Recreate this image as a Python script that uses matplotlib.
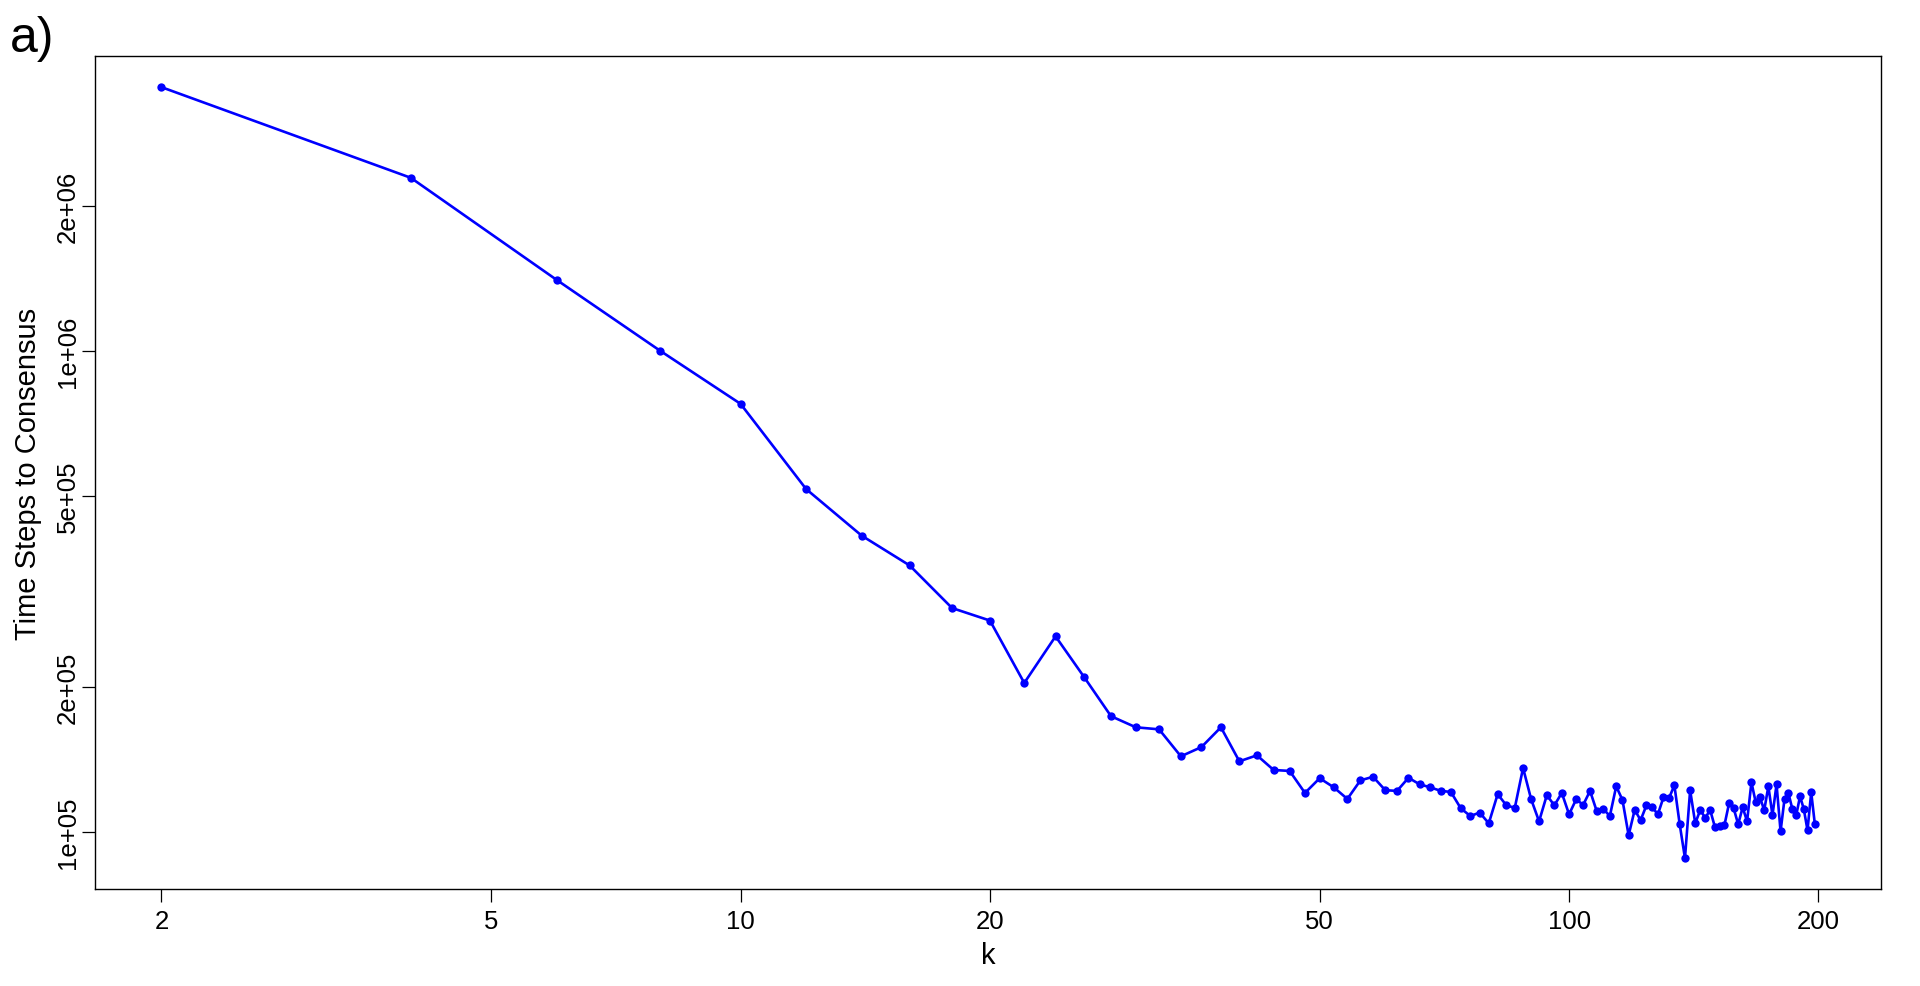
import matplotlib
matplotlib.use("Agg")
import matplotlib.pyplot as plt
import matplotlib.ticker as mticker
import numpy as np

# ── Data ──────────────────────────────────────────────────────────────────────

k_values = list(range(2, 200, 2))

steps = [
    3533000, 2289000, 1404000, 1000000, 776000, 516000, 413000, 358000, 292000, 275000,
    204000, 255000, 209500, 174000, 165000, 163400, 143600, 150100, 165000, 140200,
    144300, 134500, 133900, 120500, 129300, 123800, 117100, 128000, 130200, 122100,
    121700, 129600, 125600, 123800, 121700, 121100, 112000, 107900, 109700, 104200,
    119800, 113600, 112200, 135800, 116900, 105200, 119200, 113600, 120500, 108800,
    116900, 113800, 121700, 110400, 111600, 107900, 124400, 116500, 98400, 111100,
    105800, 113600, 112500, 108800, 118000, 117500, 125000, 103700, 88200, 122100,
    104200, 111100, 106900, 111100, 102300, 102800, 103300, 114700, 112000, 103700,
    112500, 105200, 126800, 115200, 118000, 110900, 124400, 108300, 125600, 100300,
    117200, 120300, 111500, 108300, 118600, 111600, 100800, 120900, 103700,
]

x_ticks = [2, 5, 10, 20, 50, 100, 200]
y_ticks = [1e5, 2e5, 5e5, 1e6, 2e6]
y_tick_labels = ["1e+05", "2e+05", "5e+05", "1e+06", "2e+06"]

# ── Plot ──────────────────────────────────────────────────────────────────────

plt.rcParams["font.family"] = ["Liberation Sans", "DejaVu Sans"]

fig = plt.figure(figsize=(19.2, 9.87), dpi=100)
ax = fig.add_axes([95.3 / 1920, 1 - 890 / 987, (1881 - 95.3) / 1920, (890 - 57.3) / 987])

ax.plot(k_values, steps, color="#0000ff", linewidth=1.9, marker="o",
        markersize=6, markeredgewidth=0)

ax.set_xscale("log")
ax.set_yscale("log")
ax.margins(x=0.04, y=0.04)

ax.xaxis.set_major_locator(mticker.FixedLocator(x_ticks))
ax.xaxis.set_major_formatter(mticker.FixedFormatter([str(t) for t in x_ticks]))
ax.xaxis.set_minor_locator(mticker.NullLocator())
ax.yaxis.set_major_locator(mticker.FixedLocator(y_ticks))
ax.yaxis.set_major_formatter(mticker.FixedFormatter(y_tick_labels))
ax.yaxis.set_minor_locator(mticker.NullLocator())

ax.tick_params(axis="both", direction="out", length=9.5, width=0.9, labelsize=18.5, color="black")
ax.tick_params(axis="x", pad=5)
ax.tick_params(axis="y", pad=1.5)
for lab in ax.get_yticklabels():
    lab.set_rotation(90)
    lab.set_va("center")

for sp in ax.spines.values():
    sp.set_linewidth(1.0)
    sp.set_color("black")

ax.set_xlabel("k", fontsize=21)
ax.set_ylabel("Time Steps to Consensus", fontsize=21)
ax.xaxis.set_label_coords(0.5, -0.062)
ax.yaxis.set_label_coords(-0.030, 0.5)

fig.text(10 / 1920, 1 - 52 / 987, "a)", fontsize=36, ha="left", va="baseline")

fig.savefig("out.png", dpi=100)
